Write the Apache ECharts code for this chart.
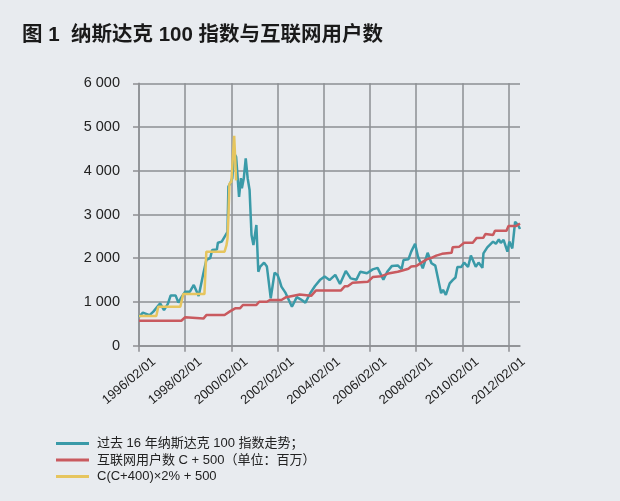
<!DOCTYPE html>
<html><head><meta charset="utf-8">
<script src="https://cdn.jsdelivr.net/npm/echarts@6/dist/echarts.min.js"></script>
<style>html,body{margin:0;padding:0;background:#e8ebef;}#c{width:620px;height:501px;}</style>
</head><body><div id="c"></div>
<script>
const titleText = '图 1  纳斯达克 100 指数与互联网用户数';
const seriesNames = ['过去 16 年纳斯达克 100 指数走势；', '互联网用户数 C + 500（单位：百万）', 'C(C+400)×2% + 500'];
const xTickLabels = ['1996/02/01','1998/02/01','2000/02/01','2002/02/01','2004/02/01','2006/02/01','2008/02/01','2010/02/01','2012/02/01'];

const nasdaqDates = ['1996/02/01','1996/04/01','1996/07/15','1996/09/15','1997/01/01','1997/03/01','1997/05/01','1997/06/15','1997/09/01','1997/10/15','1997/12/01','1998/02/01','1998/04/15','1998/06/15','1998/09/01','1998/11/15','1999/01/01','1999/03/01','1999/04/01','1999/06/15','1999/07/01','1999/09/01','1999/10/15','1999/12/01','1999/12/15','2000/01/15','2000/02/15','2000/03/15','2000/04/15','2000/05/01','2000/06/01','2000/07/01','2000/07/15','2000/08/15','2000/09/15','2000/10/15','2000/11/15','2000/12/15','2001/01/15','2001/03/01','2001/04/01','2001/05/01','2001/07/01','2001/08/15','2001/10/15','2001/12/15','2002/02/01','2002/03/01','2002/04/01','2002/06/01','2002/09/15','2002/12/01','2003/02/01','2003/04/15','2003/07/01','2003/09/15','2003/10/15','2003/12/01','2004/01/01','2004/02/15','2004/05/01','2004/08/01','2004/10/15','2005/01/15','2005/04/01','2005/07/01','2005/09/01','2005/12/15','2006/03/15','2006/06/01','2006/09/01','2006/11/01','2007/01/15','2007/04/15','2007/06/15','2007/07/15','2007/10/01','2007/11/15','2008/01/15','2008/03/01','2008/05/15','2008/08/01','2008/10/01','2008/12/01','2009/03/01','2009/04/01','2009/05/15','2009/07/15','2009/09/01','2009/10/15','2009/11/15','2010/01/15','2010/03/01','2010/05/01','2010/06/15','2010/09/01','2010/10/15','2010/12/15','2011/01/01','2011/03/01','2011/06/01','2011/07/15','2011/09/01','2011/10/01','2011/11/15','2012/01/15','2012/02/15','2012/04/01','2012/05/01','2012/05/15','2012/07/01','2012/08/01'];
const nasdaqValues = [660,755,700,780,970,815,955,1150,1150,985,1105,1235,1235,1390,1135,1655,1960,2000,2190,2200,2355,2380,2490,2605,3640,3715,3830,4400,4320,4285,3405,3830,3600,3830,4285,3830,3560,2530,2300,2760,1690,1810,1900,1810,1085,1670,1615,1500,1350,1220,890,1110,1060,985,1200,1365,1330,1500,1465,1580,1500,1620,1410,1710,1540,1510,1690,1655,1745,1780,1510,1690,1825,1835,1750,1960,1975,2150,2330,2035,1770,2125,1885,1830,1200,1275,1160,1425,1500,1560,1800,1800,1900,1800,2060,1805,1900,1780,2110,2250,2380,2330,2430,2350,2420,2150,2380,2225,2640,2835,2760,2670];

const usersDates = ['1996/02/01','1997/12/01','1998/02/01','1998/11/15','1999/01/01','1999/10/15','2000/01/15','2000/04/01','2000/06/15','2000/08/01','2001/03/01','2001/04/15','2001/08/15','2001/10/01','2002/04/01','2002/06/15','2002/11/01','2003/01/15','2003/07/15','2003/10/01','2004/11/01','2005/01/01','2005/02/15','2005/05/01','2006/01/01','2006/03/15','2006/08/01','2006/11/15','2007/04/15','2007/06/15','2007/10/01','2007/11/15','2008/02/01','2008/07/15','2008/10/01','2008/12/15','2009/03/15','2009/08/15','2009/09/01','2009/12/15','2010/03/01','2010/07/15','2010/09/15','2011/01/01','2011/02/01','2011/06/01','2011/07/01','2012/01/01','2012/02/01','2012/06/01','2012/08/01'];
const usersValues = [570,570,650,620,700,700,790,855,855,930,930,1005,1005,1045,1045,1110,1150,1170,1140,1265,1265,1360,1360,1440,1465,1570,1590,1650,1690,1715,1760,1810,1820,1975,2010,2060,2100,2125,2250,2265,2355,2355,2465,2470,2555,2530,2630,2630,2735,2735,2795];

const modelDates = ['1996/02/01','1996/11/01','1996/12/01','1997/11/15','1998/01/01','1998/12/01','1999/01/01','1999/10/15','1999/11/15','1999/12/01','1999/12/15','2000/01/01','2000/02/01','2000/03/01','2000/03/15','2000/04/01','2000/04/15'];
const modelValues = [680,680,890,890,1180,1180,2150,2150,2300,2450,2950,3700,3750,3790,4800,4820,3780];

function toMonth(s) {
  const p = s.split('/').map(Number);
  return (p[0] - 1996) * 12 + (p[1] - 2) + (p[2] - 1) / 30;
}
function pairs(dates, vals) { return dates.map((d, i) => [toMonth(d), vals[i]]); }

const FONT = 'Liberation Sans, Noto Sans CJK SC, sans-serif';
const GRID_COLOR = '#8d8f93';
const xTickValues = xTickLabels.map(toMonth);
const chart = echarts.init(document.getElementById('c'));
chart.setOption({
  backgroundColor: '#e8ebef',
  animation: false,
  title: { text: titleText, left: 17, top: 20, textStyle: { fontFamily: FONT, fontSize: 20.5, fontWeight: 'bold', color: '#1a1a1a' } },
  legend: {
    orient: 'vertical', left: 56, top: 437, padding: 0, itemWidth: 33, itemHeight: 3, itemGap: 3.5,
    icon: 'rect',
    data: seriesNames,
    textStyle: { fontFamily: FONT, fontSize: 13, color: '#222', padding: [0,0,0,3] }
  },
  grid: { left: 139, right: 100, top: 83.3, bottom: 155.3, containLabel: false },
  xAxis: {
    type: 'value', min: 0, max: 198, interval: 24,
    axisLine: { show: true, onZero: false, lineStyle: { color: GRID_COLOR, width: 1.5 } },
    axisTick: { show: true, length: 6, customValues: xTickValues, lineStyle: { color: GRID_COLOR, width: 1.5 } },
    splitLine: { show: true, lineStyle: { color: GRID_COLOR, width: 1.5 } },
    axisLabel: {
      rotate: 40, fontFamily: FONT, fontSize: 13, color: '#222', margin: 27,
      align: 'center', verticalAlign: 'middle', padding: [0, 26, 0, 0],
      customValues: xTickValues,
      formatter: v => xTickLabels[Math.round(v / 24)] || ''
    }
  },
  yAxis: {
    type: 'value', min: 0, max: 6000, interval: 1000,
    axisLine: { show: true, lineStyle: { color: GRID_COLOR, width: 1.5 } },
    axisTick: { show: true, length: 6, lineStyle: { color: GRID_COLOR, width: 1.5 } },
    splitLine: { show: true, lineStyle: { color: GRID_COLOR, width: 1.5 } },
    axisLabel: {
      fontFamily: FONT, fontSize: 14.5, color: '#222', margin: 19,
      formatter: v => v >= 1000 ? Math.floor(v / 1000) + ' 000' : String(v)
    }
  },
  series: [
    { name: seriesNames[0], type: 'line', symbol: 'none', data: pairs(nasdaqDates, nasdaqValues), lineStyle: { color: '#3a9aa8', width: 2.5 }, itemStyle: { color: '#3a9aa8' }, clip: false },
    { name: seriesNames[1], type: 'line', symbol: 'none', data: pairs(usersDates, usersValues), lineStyle: { color: '#c95a5f', width: 2.5 }, itemStyle: { color: '#c95a5f' }, clip: false },
    { name: seriesNames[2], type: 'line', symbol: 'none', data: pairs(modelDates, modelValues), lineStyle: { color: '#e6c55e', width: 2.5 }, itemStyle: { color: '#e6c55e' }, clip: false }
  ]
});
</script></body></html>
